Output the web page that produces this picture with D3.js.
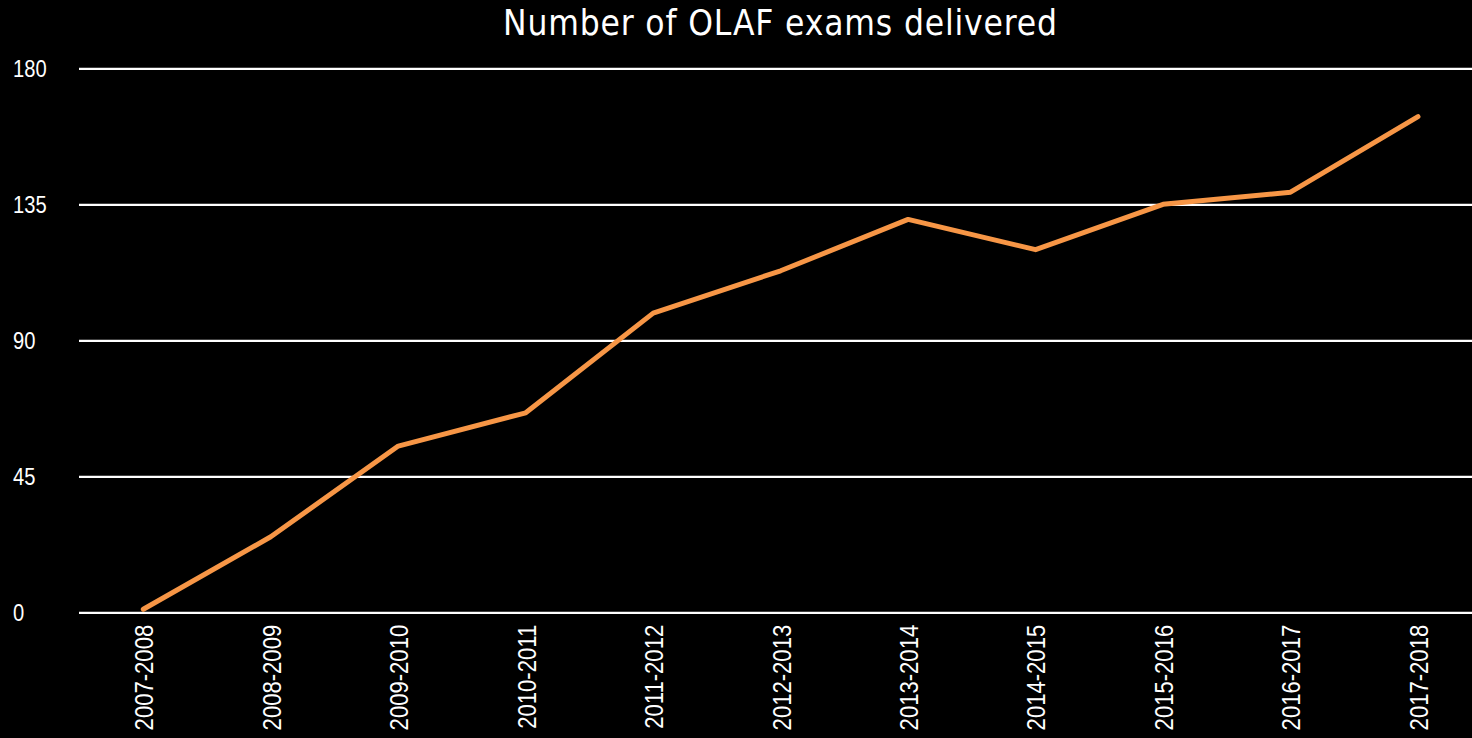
<!DOCTYPE html>
<html><head><meta charset="utf-8">
<script src="https://cdn.jsdelivr.net/npm/d3@7/dist/d3.min.js"></script>
<style>html,body{margin:0;padding:0;background:#000;overflow:hidden}</style>
</head><body>
<svg id="c" width="1472" height="738"></svg>
<script>
const categories = ["2007-2008","2008-2009","2009-2010","2010-2011","2011-2012","2012-2013","2013-2014","2014-2015","2015-2016","2016-2017","2017-2018"];
const values = [1,25,55,66,99,113,130,120,135,139,164];
const yTicks = [0,45,90,135,180];
const title = "Number of OLAF exams delivered";

const sans = "'Liberation Sans', Arial, sans-serif";
const svg = d3.select("#c");
svg.append("rect").attr("width",1472).attr("height",738).attr("fill","#000");

const x = d3.scalePoint().domain(categories).range([143.3,1418]);
const y = d3.scaleLinear().domain([0,180]).range([612.3,68.3]);

const yAxis = svg.append("g").attr("transform","translate(79,0)")
  .call(d3.axisLeft(y).tickValues(yTicks).tickSize(-1393).tickFormat(d3.format("d")));
yAxis.select(".domain").remove();
yAxis.selectAll("line").attr("stroke","#fff").attr("stroke-width",2.2);
yAxis.selectAll("text").attr("fill","#fff").attr("font-family",sans).attr("font-size",24)
  .attr("text-anchor","start").attr("x",0).attr("dy","0.36em")
  .attr("transform","translate(-66,0) scale(0.84,1)");

const sx = 0.85;
const xAxis = svg.append("g").attr("transform","translate(0,612.3)")
  .call(d3.axisBottom(x).tickSize(0).tickPadding(0));
xAxis.select(".domain").remove();
xAxis.selectAll("text")
  .attr("fill","#fff").attr("font-family",sans).attr("font-size",26)
  .attr("transform",`rotate(-90) scale(${sx},1)`).attr("text-anchor","end").attr("x",-12.5/sx).attr("y",0).attr("dy","0.36em");

const line = d3.line().x((d,i)=>x(categories[i])).y(d=>y(d));
svg.append("path").datum(values).attr("d",line).attr("fill","none")
  .attr("stroke","#F79646").attr("stroke-width",5).attr("stroke-linecap","round").attr("stroke-linejoin","round");

svg.append("text").attr("x",503).attr("y",35).attr("text-anchor","start")
  .attr("fill","#fff").attr("font-family","'DejaVu Sans Condensed', 'DejaVu Sans', sans-serif").attr("font-size",35)
  .attr("textLength",554).attr("lengthAdjust","spacing")
  .text(title);
</script>
</body></html>
